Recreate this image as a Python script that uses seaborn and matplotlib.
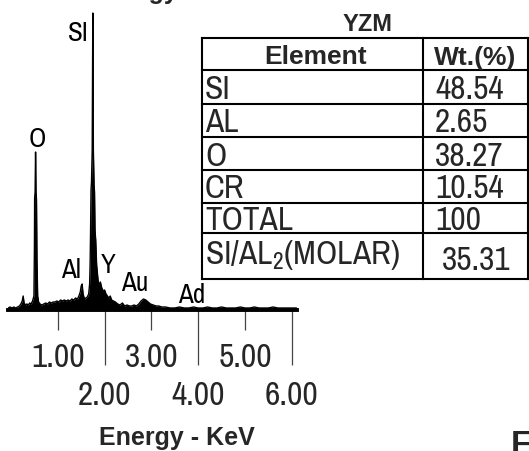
import matplotlib
matplotlib.use("Agg")
import matplotlib.pyplot as plt
from matplotlib import font_manager as fm
import pandas as pd
import seaborn as sns

# ---- EDS spectrum: energy (keV) and intensity (arbitrary counts) ----
energy_kev = [
    -0.06, -0.02, 0.02, 0.06, 0.10, 0.14, 0.18, 0.21, 0.24, 0.26, 0.28, 0.31,
    0.34, 0.37, 0.40, 0.43, 0.46, 0.49, 0.50, 0.505, 0.515, 0.525, 0.535,
    0.545, 0.555, 0.57, 0.59, 0.62, 0.66, 0.70, 0.74, 0.78, 0.82, 0.86, 0.90,
    0.94, 0.98, 1.02, 1.06, 1.10, 1.14, 1.18, 1.22, 1.26, 1.30, 1.34, 1.38,
    1.42, 1.45, 1.48, 1.50, 1.52, 1.54, 1.57, 1.60, 1.63, 1.66, 1.68, 1.69,
    1.70, 1.71, 1.72, 1.735, 1.748, 1.76, 1.775, 1.785, 1.795, 1.81, 1.83,
    1.86, 1.88, 1.91, 1.94, 1.97, 2.00, 2.03, 2.06, 2.09, 2.12, 2.15, 2.19,
    2.23, 2.28, 2.33, 2.38, 2.43, 2.48, 2.53, 2.58, 2.63, 2.68, 2.73, 2.78,
    2.83, 2.88, 2.93, 2.98, 3.04, 3.10, 3.16, 3.22, 3.30, 3.40, 3.50, 3.60,
    3.70, 3.80, 3.90, 4.00, 4.10, 4.20, 4.30, 4.40, 4.50, 4.60, 4.70, 4.80,
    4.90, 5.00, 5.10, 5.20, 5.30, 5.40, 5.50, 5.60, 5.70, 5.80, 5.90, 6.00,
    6.10,
]
counts = [
    2, 3, 2, 3, 2, 3, 4, 6, 9, 14, 7, 5,
    6, 5, 7, 6, 9, 14, 60, 112, 118, 158, 118,
    110, 50, 14, 8, 6, 5, 6, 7, 6, 8, 7, 8,
    8, 9, 8, 10, 9, 10, 9, 10, 9, 11, 10, 12,
    11, 14, 18, 24, 26, 16, 11, 12, 13, 16, 26, 45,
    78, 120, 128, 160, 297, 160, 125, 118, 80, 70, 45,
    30, 25, 28, 22, 19, 20, 16, 14, 12, 14, 10, 9,
    8, 6, 5, 7, 4, 5, 4, 4, 5, 4, 6, 9,
    11, 10, 8, 6, 5, 4, 4, 3, 3, 2, 2, 3,
    2, 2, 3, 2, 2, 3, 2, 2, 3, 2, 2, 2,
    3, 2, 2, 3, 2, 2, 2, 3, 2, 2, 2, 2,
    2,
]

# ---- peak identification labels ----
peak_labels = ["O", "SI", "Al", "Y", "Au", "Ad"]
peak_label_energy = [0.56, 1.43, 1.28, 2.07, 2.65, 3.87]
peak_label_height = [173, 279, 42, 47, 29, 17]

# ---- axis ticks ----
major_ticks = [2.0, 4.0, 6.0]
minor_ticks = [1.0, 3.0, 5.0]

# ---- composition table ----
table_title = "YZM"
table_header = ["Element", "Wt.(%)"]
elements = ["SI", "AL", "O", "CR", "TOTAL", "SI/AL$_2$(MOLAR)"]
weight_pct = ["48.54", "2.65", "38.27", "10.54", "100", "35.31"]

sns.set_style("ticks")


def pick_narrow_font():
    """Prefer a narrow sans face; fall back to Liberation Sans."""
    entries = fm.fontManager.ttflist
    names = {f.name for f in entries}
    if "Liberation Sans Narrow" in names:
        return "Liberation Sans Narrow", "normal", True
    for n in sorted(names):
        if ("Narrow" in n or "Condensed" in n) and "Mono" not in n \
                and "Serif" not in n:
            return n, "normal", True
    for fam in ("Noto Sans", "Open Sans", "DejaVu Sans", "Roboto"):
        stretches = {str(f.stretch) for f in entries if f.name == fam}
        for s in ("condensed", "semi-condensed"):
            if s in stretches:
                return fam, s, True
    return "Liberation Sans", "normal", False


FONT, STRETCH, NARROW = pick_narrow_font()
if NARROW:
    SZ = dict(cell=24, tick=24, peak=19.5)
else:
    SZ = dict(cell=21, tick=22, peak=18)

plt.rcParams["font.family"] = [FONT, "DejaVu Sans"]
plt.rcParams["font.stretch"] = STRETCH
plt.rcParams["mathtext.fontset"] = "custom"
plt.rcParams["mathtext.rm"] = FONT
plt.rcParams["mathtext.it"] = FONT

# bold headings use a face that has a true bold weight
BOLD = dict(family=["Liberation Sans", "DejaVu Sans"], stretch="normal",
            fontweight="bold")

W, H = 529, 451
fig = plt.figure(figsize=(W / 100, H / 100), dpi=100)
fig.patch.set_facecolor("white")


def fx(px):
    return px / W


def fy(py):
    return 1 - py / H


# spectrum panel
ax = fig.add_axes([fx(8), fy(310), fx(297) - fx(8), fy(0) - fy(310)])
ax.set_facecolor("none")
spec = pd.DataFrame({"energy": energy_kev, "counts": counts})
ax.fill_between(spec["energy"], 0, spec["counts"], color="black", lw=0)
sns.lineplot(data=spec, x="energy", y="counts", ax=ax, color="black",
             lw=1.0, sort=True, estimator=None)
ax.set_xlim(-0.064, 6.111)
ax.set_ylim(0, 310)
ax.set_xlabel("")
ax.set_ylabel("")
ax.set_yticks([])
for side in ("left", "top", "right"):
    ax.spines[side].set_visible(False)
ax.spines["bottom"].set_linewidth(2.8)
ax.spines["bottom"].set_color("black")

ax.set_xticks(major_ticks)
ax.set_xticklabels([f"{v:.2f}" for v in major_ticks])
ax.set_xticks(minor_ticks, minor=True)
ax.set_xticklabels([f"{v:.2f}" for v in minor_ticks], minor=True)
ax.tick_params(axis="x", which="major", direction="out", length=39.5,
               width=0.9, color="#444444", pad=11.5, labelsize=SZ["tick"])
ax.tick_params(axis="x", which="minor", direction="out", length=14.4,
               width=0.9, color="#444444", pad=9.5, labelsize=SZ["tick"])

for lab, e, h in zip(peak_labels, peak_label_energy, peak_label_height):
    ax.text(e, h, lab, ha="center", va="center_baseline",
            fontsize=SZ["peak"], color="black")

fig.text(fx(177), fy(435), "Energy - KeV", ha="center", va="center_baseline",
         fontsize=18, **BOLD)

# page texts running off the edges of the panel
fig.text(fx(178), fy(-1), "Energy", ha="right", va="baseline", fontsize=18,
         **BOLD)
fig.text(fx(511), fy(430), "FIG. 5", ha="left", va="top", fontsize=24,
         **BOLD)

# composition table
tax = fig.add_axes([0, 0, 1, 1])
tax.set_xlim(0, W)
tax.set_ylim(H, 0)
tax.axis("off")
row_edges = [38, 70, 104, 137, 170, 203, 233, 279]
col_edges = [202, 423, 527.5]
for y in row_edges:
    tax.plot([col_edges[0], col_edges[-1]], [y, y], color="black", lw=1.5,
             solid_capstyle="projecting")
for x in col_edges:
    tax.plot([x, x], [row_edges[0], row_edges[-1]], color="black", lw=1.5,
             solid_capstyle="projecting")

tax.text(368, 22, table_title, ha="center", va="center_baseline",
         fontsize=17, **BOLD)
tax.text(316, 55, table_header[0], ha="center", va="center_baseline",
         fontsize=19, **BOLD)
tax.text(475, 55, table_header[1], ha="center", va="center_baseline",
         fontsize=19, **BOLD)

n = len(elements)
for i, (el, wt) in enumerate(zip(elements, weight_pct)):
    top, bot = row_edges[i + 1], row_edges[i + 2]
    mid = (top + bot) / 2
    last = i == n - 1
    tax.text(205, mid - 5.5 if last else mid, el, ha="left",
             va="center_baseline", fontsize=SZ["cell"])
    tax.text(442 if last else 435, mid + 1.5 if last else mid, wt, ha="left",
             va="center_baseline", fontsize=SZ["cell"])

fig.savefig("out.png", dpi=100, facecolor="white")
